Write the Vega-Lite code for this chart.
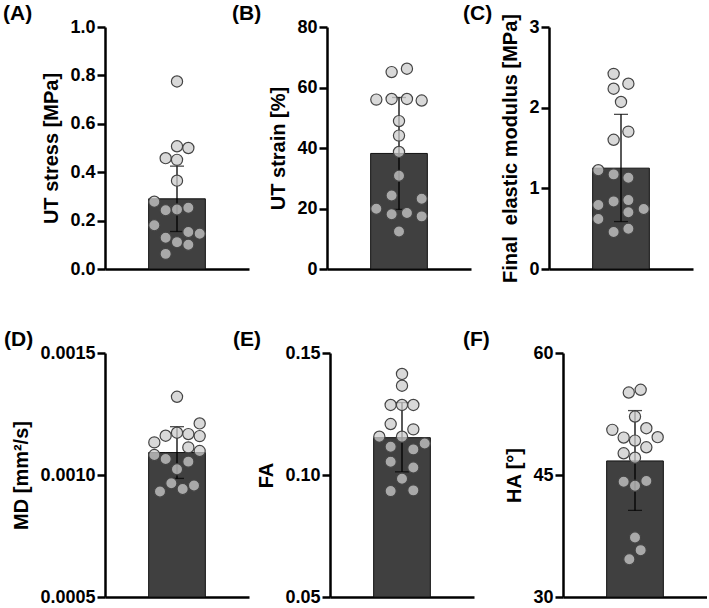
{
"$schema": "https://vega.github.io/schema/vega-lite/v6.json",
"padding": {"left": 3, "top": 2, "right": 0, "bottom": 0},
"config": {
  "view": {"stroke": null},
  "font": "Liberation Sans",
  "axis": {"domainColor": "black", "domainWidth": 2.5, "tickColor": "black", "tickWidth": 2.5, "tickSize": 8, "labelFont": "Liberation Sans", "labelFontSize": 18, "labelFontWeight": "bold", "labelColor": "black", "titleFont": "Liberation Sans", "titleFontSize": 20, "titleFontWeight": "bold", "titleColor": "black", "grid": false, "labelPadding": 2, "titlePadding": 8},
  "title": {"font": "Liberation Sans", "fontSize": 21, "fontWeight": "bold", "color": "black", "anchor": "start", "frame": "group", "dy": 10}
},
"datasets": {
  "pts": [
    {"panel":"A","dx":0,"v":0.775},{"panel":"A","dx":0,"v":0.507},{"panel":"A","dx":1,"v":0.5},{"panel":"A","dx":-1,"v":0.458},{"panel":"A","dx":0,"v":0.451},{"panel":"A","dx":0,"v":0.365},{"panel":"A","dx":-2,"v":0.278},{"panel":"A","dx":-1,"v":0.243},{"panel":"A","dx":0,"v":0.246},{"panel":"A","dx":1,"v":0.253},{"panel":"A","dx":-2,"v":0.181},{"panel":"A","dx":-1,"v":0.129},{"panel":"A","dx":0,"v":0.111},{"panel":"A","dx":1,"v":0.153},{"panel":"A","dx":2,"v":0.146},{"panel":"A","dx":1,"v":0.1},{"panel":"A","dx":-1,"v":0.0625},
    {"panel":"B","dx":-0.65,"v":65.1},{"panel":"B","dx":0.7,"v":66.2},{"panel":"B","dx":-2,"v":56.0},{"panel":"B","dx":-0.65,"v":56.2},{"panel":"B","dx":0.7,"v":56.2},{"panel":"B","dx":2,"v":55.7},{"panel":"B","dx":0,"v":48.9},{"panel":"B","dx":0,"v":44.1},{"panel":"B","dx":0,"v":38.7},{"panel":"B","dx":0,"v":30.8},{"panel":"B","dx":-0.65,"v":24.3},{"panel":"B","dx":2,"v":23.2},{"panel":"B","dx":-2,"v":19.9},{"panel":"B","dx":-0.65,"v":18.1},{"panel":"B","dx":0.7,"v":18.5},{"panel":"B","dx":2,"v":17.4},{"panel":"B","dx":0,"v":12.4},
    {"panel":"C","dx":-0.65,"v":2.419},{"panel":"C","dx":-0.65,"v":2.235},{"panel":"C","dx":0.65,"v":2.297},{"panel":"C","dx":0,"v":2.071},{"panel":"C","dx":0.65,"v":1.703},{"panel":"C","dx":-0.65,"v":1.602},{"panel":"C","dx":-2,"v":1.225},{"panel":"C","dx":-0.65,"v":1.173},{"panel":"C","dx":0.65,"v":1.132},{"panel":"C","dx":-0.65,"v":0.838},{"panel":"C","dx":0.65,"v":0.854},{"panel":"C","dx":-2,"v":0.793},{"panel":"C","dx":2,"v":0.744},{"panel":"C","dx":0.65,"v":0.703},{"panel":"C","dx":-2,"v":0.621},{"panel":"C","dx":-0.65,"v":0.458},{"panel":"C","dx":0.65,"v":0.499},
    {"panel":"D","dx":0,"v":0.0013205},{"panel":"D","dx":2,"v":0.0012114},{"panel":"D","dx":0,"v":0.0011733},{"panel":"D","dx":-1,"v":0.001161},{"panel":"D","dx":1,"v":0.0011677},{"panel":"D","dx":2,"v":0.0011594},{"panel":"D","dx":-2,"v":0.0011337},{"panel":"D","dx":1,"v":0.0011132},{"panel":"D","dx":2,"v":0.0010981},{"panel":"D","dx":-2,"v":0.0010818},{"panel":"D","dx":-1,"v":0.0010654},{"panel":"D","dx":1,"v":0.0010548},{"panel":"D","dx":0,"v":0.0010233},{"panel":"D","dx":-0.5,"v":0.0009661},{"panel":"D","dx":0.5,"v":0.0009428},{"panel":"D","dx":1.5,"v":0.0009567},{"panel":"D","dx":-1.5,"v":0.0009321},
    {"panel":"E","dx":0,"v":0.1414},{"panel":"E","dx":0,"v":0.1366},{"panel":"E","dx":-1,"v":0.1287},{"panel":"E","dx":0,"v":0.1287},{"panel":"E","dx":1,"v":0.1287},{"panel":"E","dx":-1,"v":0.1209},{"panel":"E","dx":1,"v":0.1187},{"panel":"E","dx":-2,"v":0.1157},{"panel":"E","dx":0,"v":0.1157},{"panel":"E","dx":2,"v":0.1129},{"panel":"E","dx":-1,"v":0.1116},{"panel":"E","dx":1,"v":0.1105},{"panel":"E","dx":-1,"v":0.1054},{"panel":"E","dx":1,"v":0.1031},{"panel":"E","dx":0,"v":0.0985},{"panel":"E","dx":-1,"v":0.0934},{"panel":"E","dx":1,"v":0.0937},
    {"panel":"F","dx":-0.55,"v":55.14},{"panel":"F","dx":0.5,"v":55.48},{"panel":"F","dx":0,"v":52.19},{"panel":"F","dx":-2,"v":50.55},{"panel":"F","dx":1,"v":50.75},{"panel":"F","dx":-1,"v":49.6},{"panel":"F","dx":2,"v":49.65},{"panel":"F","dx":0,"v":49.23},{"panel":"F","dx":1,"v":48.41},{"panel":"F","dx":-1,"v":47.67},{"panel":"F","dx":0,"v":47.13},{"panel":"F","dx":-1,"v":44.17},{"panel":"F","dx":1,"v":44.26},{"panel":"F","dx":0,"v":43.68},{"panel":"F","dx":0,"v":37.32},{"panel":"F","dx":0.5,"v":35.76},{"panel":"F","dx":-0.5,"v":34.65}
  ],
  "summ": [
    {"panel":"A","mean":0.29,"lo":0.155,"hi":0.425},
    {"panel":"B","mean":38.2,"lo":19.7,"hi":56.7},
    {"panel":"C","mean":1.25,"lo":0.588,"hi":1.917},
    {"panel":"D","mean":0.001092,"lo":0.000986,"hi":0.001198},
    {"panel":"E","mean":0.1153,"lo":0.1013,"hi":0.1297},
    {"panel":"F","mean":46.73,"lo":40.65,"hi":52.92}
  ]
},
"spacing": 46,
"vconcat": [
 {"hconcat": [
  {"width":144,"height":242,"title":{"text":"(A)","dx":-102},
   "layer":[
    {"data":{"name":"summ"},"transform":[{"filter":"datum.panel==='A'"}],"mark":{"type":"bar","color":"#404040","stroke":"#111111","strokeWidth":1},
     "encoding":{"x":{"datum":-2.5,"type":"quantitative","scale":{"domain":[-6.35,6.35]},"axis":{"labels":false,"ticks":false,"title":null}},"x2":{"datum":2.5},
      "y":{"field":"mean","type":"quantitative","scale":{"domain":[0,1],"nice":false},"axis":{"title":"UT stress [MPa]","values":[0,0.2,0.4,0.6,0.8,1.0],"format":".1f"}},"y2":{"datum":0}}},
    {"data":{"name":"summ"},"transform":[{"filter":"datum.panel==='A'"}],"mark":{"type":"errorbar","color":"black","thickness":1.3,"ticks":true,"size":14},
     "encoding":{"x":{"datum":0,"type":"quantitative","scale":{"domain":[-6.35,6.35]},"axis":{"labels":false,"ticks":false,"title":null}},"y":{"field":"lo","type":"quantitative","scale":{"domain":[0,1],"nice":false},"axis":{"title":"UT stress [MPa]","values":[0,0.2,0.4,0.6,0.8,1.0],"format":".1f"}},"y2":{"field":"hi"}}},
    {"data":{"name":"pts"},"transform":[{"filter":"datum.panel==='A'"}],"mark":{"type":"circle","size":125,"fill":"#cccccc","fillOpacity":0.75,"stroke":"#444444","strokeWidth":1.2,"opacity":1},
     "encoding":{"x":{"field":"dx","type":"quantitative","scale":{"domain":[-6.35,6.35]},"axis":{"labels":false,"ticks":false,"title":null}},"y":{"field":"v","type":"quantitative","scale":{"domain":[0,1],"nice":false},"axis":{"title":"UT stress [MPa]","values":[0,0.2,0.4,0.6,0.8,1.0],"format":".1f"}}}}
   ]},
  {"width":144,"height":242,"title":{"text":"(B)","dx":-95},
   "layer":[
    {"data":{"name":"summ"},"transform":[{"filter":"datum.panel==='B'"}],"mark":{"type":"bar","color":"#404040","stroke":"#111111","strokeWidth":1},
     "encoding":{"x":{"datum":-2.5,"type":"quantitative","scale":{"domain":[-6.35,6.35]},"axis":{"labels":false,"ticks":false,"title":null}},"x2":{"datum":2.5},
      "y":{"field":"mean","type":"quantitative","scale":{"domain":[0,80],"nice":false},"axis":{"title":"UT strain [%]","values":[0,20,40,60,80],"format":"d"}},"y2":{"datum":0}}},
    {"data":{"name":"summ"},"transform":[{"filter":"datum.panel==='B'"}],"mark":{"type":"errorbar","color":"black","thickness":1.3,"ticks":true,"size":14},
     "encoding":{"x":{"datum":0,"type":"quantitative","scale":{"domain":[-6.35,6.35]},"axis":{"labels":false,"ticks":false,"title":null}},"y":{"field":"lo","type":"quantitative","scale":{"domain":[0,80],"nice":false},"axis":{"title":"UT strain [%]","values":[0,20,40,60,80],"format":"d"}},"y2":{"field":"hi"}}},
    {"data":{"name":"pts"},"transform":[{"filter":"datum.panel==='B'"}],"mark":{"type":"circle","size":125,"fill":"#cccccc","fillOpacity":0.75,"stroke":"#444444","strokeWidth":1.2,"opacity":1},
     "encoding":{"x":{"field":"dx","type":"quantitative","scale":{"domain":[-6.35,6.35]},"axis":{"labels":false,"ticks":false,"title":null}},"y":{"field":"v","type":"quantitative","scale":{"domain":[0,80],"nice":false},"axis":{"title":"UT strain [%]","values":[0,20,40,60,80],"format":"d"}}}}
   ]},
  {"width":144,"height":242,"title":{"text":"(C)","dx":-86,"dy":14},
   "layer":[
    {"data":{"name":"summ"},"transform":[{"filter":"datum.panel==='C'"}],"mark":{"type":"bar","color":"#404040","stroke":"#111111","strokeWidth":1},
     "encoding":{"x":{"datum":-2.5,"type":"quantitative","scale":{"domain":[-6.35,6.35]},"axis":{"labels":false,"ticks":false,"title":null}},"x2":{"datum":2.5},
      "y":{"field":"mean","type":"quantitative","scale":{"domain":[0,3],"nice":false},"axis":{"title":"Final\u00a0 elastic modulus [MPa]","values":[0,1,2,3],"format":"d"}},"y2":{"datum":0}}},
    {"data":{"name":"summ"},"transform":[{"filter":"datum.panel==='C'"}],"mark":{"type":"errorbar","color":"black","thickness":1.3,"ticks":true,"size":14},
     "encoding":{"x":{"datum":0,"type":"quantitative","scale":{"domain":[-6.35,6.35]},"axis":{"labels":false,"ticks":false,"title":null}},"y":{"field":"lo","type":"quantitative","scale":{"domain":[0,3],"nice":false},"axis":{"title":"Final\u00a0 elastic modulus [MPa]","values":[0,1,2,3],"format":"d"}},"y2":{"field":"hi"}}},
    {"data":{"name":"pts"},"transform":[{"filter":"datum.panel==='C'"}],"mark":{"type":"circle","size":125,"fill":"#cccccc","fillOpacity":0.75,"stroke":"#444444","strokeWidth":1.2,"opacity":1},
     "encoding":{"x":{"field":"dx","type":"quantitative","scale":{"domain":[-6.35,6.35]},"axis":{"labels":false,"ticks":false,"title":null}},"y":{"field":"v","type":"quantitative","scale":{"domain":[0,3],"nice":false},"axis":{"title":"Final\u00a0 elastic modulus [MPa]","values":[0,1,2,3],"format":"d"}}}}
   ]}
  ], "bounds": "flush", "spacing": 78},
 {"hconcat": [
  {"width":144,"height":244,"title":{"text":"(D)","dx":-101},
   "layer":[
    {"data":{"name":"summ"},"transform":[{"filter":"datum.panel==='D'"}],"mark":{"type":"bar","color":"#404040","stroke":"#111111","strokeWidth":1},
     "encoding":{"x":{"datum":-2.5,"type":"quantitative","scale":{"domain":[-6.35,6.35]},"axis":{"labels":false,"ticks":false,"title":null}},"x2":{"datum":2.5},
      "y":{"field":"mean","type":"quantitative","scale":{"domain":[0.0005,0.0015],"nice":false,"zero":false},"axis":{"title":"MD [mm²/s]","values":[0.0005,0.001,0.0015],"format":".4f"}},"y2":{"datum":0.0005}}},
    {"data":{"name":"summ"},"transform":[{"filter":"datum.panel==='D'"}],"mark":{"type":"errorbar","color":"black","thickness":1.3,"ticks":true,"size":14},
     "encoding":{"x":{"datum":0,"type":"quantitative","scale":{"domain":[-6.35,6.35]},"axis":{"labels":false,"ticks":false,"title":null}},"y":{"field":"lo","type":"quantitative","scale":{"domain":[0.0005,0.0015],"nice":false,"zero":false},"axis":{"title":"MD [mm²/s]","values":[0.0005,0.001,0.0015],"format":".4f"}},"y2":{"field":"hi"}}},
    {"data":{"name":"pts"},"transform":[{"filter":"datum.panel==='D'"}],"mark":{"type":"circle","size":125,"fill":"#cccccc","fillOpacity":0.75,"stroke":"#444444","strokeWidth":1.2,"opacity":1},
     "encoding":{"x":{"field":"dx","type":"quantitative","scale":{"domain":[-6.35,6.35]},"axis":{"labels":false,"ticks":false,"title":null}},"y":{"field":"v","type":"quantitative","scale":{"domain":[0.0005,0.0015],"nice":false,"zero":false},"axis":{"title":"MD [mm²/s]","values":[0.0005,0.001,0.0015],"format":".4f"}}}}
   ]},
  {"hconcat": [
   {"width":144,"height":244,"title":{"text":"(E)","dx":-97},
    "layer":[
     {"data":{"name":"summ"},"transform":[{"filter":"datum.panel==='E'"}],"mark":{"type":"bar","color":"#404040","stroke":"#111111","strokeWidth":1},
      "encoding":{"x":{"datum":-2.5,"type":"quantitative","scale":{"domain":[-6.35,6.35]},"axis":{"labels":false,"ticks":false,"title":null}},"x2":{"datum":2.5},
       "y":{"field":"mean","type":"quantitative","scale":{"domain":[0.05,0.15],"nice":false,"zero":false},"axis":{"title":"FA","values":[0.05,0.1,0.15],"format":".2f"}},"y2":{"datum":0.05}}},
     {"data":{"name":"summ"},"transform":[{"filter":"datum.panel==='E'"}],"mark":{"type":"errorbar","color":"black","thickness":1.3,"ticks":true,"size":14},
      "encoding":{"x":{"datum":0,"type":"quantitative","scale":{"domain":[-6.35,6.35]},"axis":{"labels":false,"ticks":false,"title":null}},"y":{"field":"lo","type":"quantitative","scale":{"domain":[0.05,0.15],"nice":false,"zero":false},"axis":{"title":"FA","values":[0.05,0.1,0.15],"format":".2f"}},"y2":{"field":"hi"}}},
     {"data":{"name":"pts"},"transform":[{"filter":"datum.panel==='E'"}],"mark":{"type":"circle","size":125,"fill":"#cccccc","fillOpacity":0.75,"stroke":"#444444","strokeWidth":1.2,"opacity":1},
      "encoding":{"x":{"field":"dx","type":"quantitative","scale":{"domain":[-6.35,6.35]},"axis":{"labels":false,"ticks":false,"title":null}},"y":{"field":"v","type":"quantitative","scale":{"domain":[0.05,0.15],"nice":false,"zero":false},"axis":{"title":"FA","values":[0.05,0.1,0.15],"format":".2f"}}}}
    ]},
   {"width":144,"height":244,"title":{"text":"(F)","dx":-100},
    "layer":[
     {"data":{"name":"summ"},"transform":[{"filter":"datum.panel==='F'"}],"mark":{"type":"bar","color":"#404040","stroke":"#111111","strokeWidth":1},
      "encoding":{"x":{"datum":-2.5,"type":"quantitative","scale":{"domain":[-6.35,6.35]},"axis":{"labels":false,"ticks":false,"title":null}},"x2":{"datum":2.5},
       "y":{"field":"mean","type":"quantitative","scale":{"domain":[30,60],"nice":false,"zero":false},"axis":{"title":"HA [°]","values":[30,45,60],"format":"d"}},"y2":{"datum":30}}},
     {"data":{"name":"summ"},"transform":[{"filter":"datum.panel==='F'"}],"mark":{"type":"errorbar","color":"black","thickness":1.3,"ticks":true,"size":14},
      "encoding":{"x":{"datum":0,"type":"quantitative","scale":{"domain":[-6.35,6.35]},"axis":{"labels":false,"ticks":false,"title":null}},"y":{"field":"lo","type":"quantitative","scale":{"domain":[30,60],"nice":false,"zero":false},"axis":{"title":"HA [°]","values":[30,45,60],"format":"d"}},"y2":{"field":"hi"}}},
     {"data":{"name":"pts"},"transform":[{"filter":"datum.panel==='F'"}],"mark":{"type":"circle","size":125,"fill":"#cccccc","fillOpacity":0.75,"stroke":"#444444","strokeWidth":1.2,"opacity":1},
      "encoding":{"x":{"field":"dx","type":"quantitative","scale":{"domain":[-6.35,6.35]},"axis":{"labels":false,"ticks":false,"title":null}},"y":{"field":"v","type":"quantitative","scale":{"domain":[30,60],"nice":false,"zero":false},"axis":{"title":"HA [°]","values":[30,45,60],"format":"d"}}}}
    ]}
   ], "bounds": "flush", "spacing": 89}
  ], "bounds": "flush", "spacing": 81}
]
}
